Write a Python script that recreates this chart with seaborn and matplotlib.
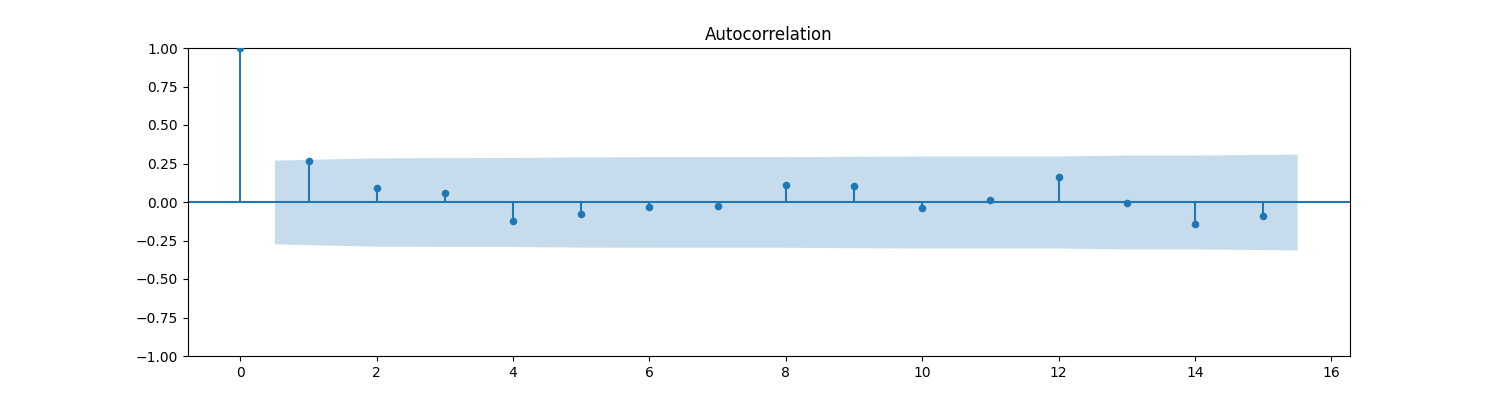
import numpy as np
import matplotlib
matplotlib.use("Agg")
import matplotlib.pyplot as plt
import seaborn as sns

# ACF values
lags = [0, 1, 2, 3, 4, 5, 6, 7, 8, 9, 10, 11, 12, 13, 14, 15]
acf_vals = [1.0, 0.267, 0.089, 0.057, -0.126, -0.080, -0.035, -0.023,
            0.111, 0.102, -0.041, 0.011, 0.161, -0.009, -0.145, -0.093]

# half-width of the confidence band at lags 1..15
band_lags = [0.5, 2, 3, 4, 5, 6, 7, 8, 9, 10, 11, 12, 13, 14, 15.5]
band_width = [0.272, 0.287, 0.288, 0.289, 0.293, 0.294, 0.294, 0.294,
              0.297, 0.299, 0.299, 0.299, 0.305, 0.305, 0.311]

fig, ax = plt.subplots(figsize=(15, 4), dpi=100)

# stems and zero line
ax.vlines(lags, [0], acf_vals, color="C0")
ax.axhline(0, color="C0")

# markers
sns.scatterplot(x=lags, y=acf_vals, color="C0", s=30, linewidth=0, ax=ax, zorder=3)

# confidence band
bw = np.array(band_width)
ax.fill_between(band_lags, -bw, bw, alpha=0.25, color="C0", linewidth=0)

ax.set_ylim(-1, 1)
ax.set_xticks(np.arange(0, 17, 2))
ax.set_title("Autocorrelation")

fig.savefig("out.png", dpi=100)
